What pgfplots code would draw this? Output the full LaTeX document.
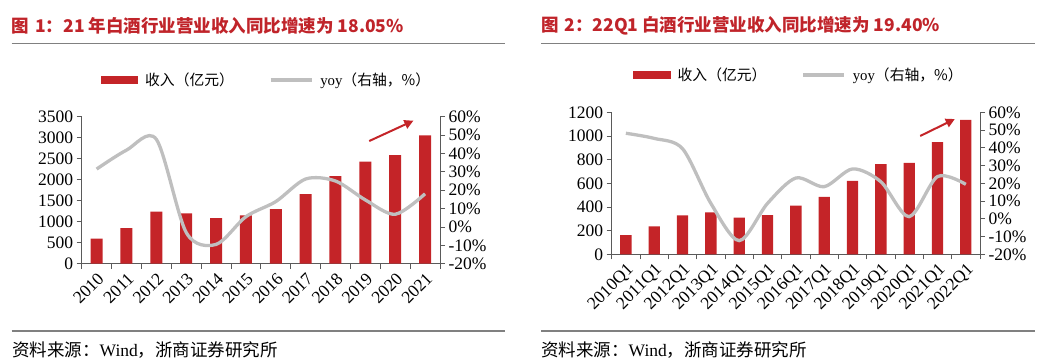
\documentclass[border=0pt]{standalone}
\usepackage{fontspec}
\setmainfont{Liberation Serif}
\newfontfamily\cjk{Noto Sans CJK SC}
\usepackage{pgfplots}
\pgfplotsset{compat=1.18}
\usetikzlibrary{arrows.meta}
\definecolor{barred}{RGB}{196,36,40}
\definecolor{titlered}{RGB}{192,36,42}
\definecolor{linegray}{RGB}{191,191,191}
\definecolor{axcol}{RGB}{90,90,90}
\definecolor{rulegray}{RGB}{128,128,128}
\newcommand{\tickfont}{\fontsize{17.5}{19}\selectfont}
\newcommand{\legfont}{\fontsize{14.8}{16}\selectfont}

\pgfplotsset{
  common/.style={
    scale only axis, anchor=south west,
    axis line style={-, draw=axcol, line width=0.9pt},
    tick style={draw=axcol, line width=0.9pt},
    tick align=outside, major tick length=5pt, minor tick length=5pt,
    ticklabel style={font=\tickfont},
    /pgf/number format/assume math mode=true,
    /pgf/number format/1000 sep={},
    clip=false,
  },
  barleg/.style={legend image code/.code={\fill[barred] (0pt,-3.8pt) rectangle (37.6pt,3.8pt);}},
  lineleg/.style={legend image code/.code={\draw[linegray, line width=3.3pt] (0pt,0pt) -- (41pt,0pt);}},
  legsty/.style={legend style={draw=none, fill=none, inner sep=0pt, outer sep=0pt,
      font=\legfont, legend columns=2,
      /tikz/every odd column/.style={column sep=5pt},
      /tikz/every even column/.style={column sep=33pt}},
    legend cell align=left},
}

\begin{document}
\begin{tikzpicture}
\useasboundingbox (0pt,0pt) rectangle (1060pt,-364pt);

% ---------- Chart 1 ----------
\node[anchor=west, inner sep=0pt, text=titlered, font=\cjk\bfseries\fontsize{17.5}{20}\selectfont] at (11.7pt,-26pt) {图\,\,1：21 年白酒行业营业收入同比增速为 18.05\%};
\draw[rulegray, line width=1.3pt] (11.7pt,-43.3pt) -- (505pt,-43.3pt);

\begin{axis}[common, legsty, at={(81.7pt,-263.7pt)}, width=358.3pt, height=147pt,
  xmin=-0.5, xmax=11.5, ymin=0, ymax=3500,
  axis x line*=bottom, axis y line*=left,
  xtick={0,...,11},
  xticklabels={2010,2011,2012,2013,2014,2015,2016,2017,2018,2019,2020,2021},
  x tick label style={rotate=45, anchor=north east, inner sep=2pt},
  major x tick style={draw=none},
  minor xtick={-0.5,0.5,...,11.5},
  ytick={0,500,...,3500},
  legend style={at={(0.5,1.2497)}, anchor=center, xshift=5.5pt}]
\addplot[ybar, bar width=12pt, fill=barred, draw=none, barleg] coordinates {
(0,595) (1,849) (2,1238) (3,1198) (4,1087) (5,1151) (6,1302) (7,1659) (8,2087) (9,2429) (10,2587) (11,3056)};
\addlegendentry{\cjk 收入（亿元）}
\addlegendimage{lineleg}
\addlegendentry{yoy\cjk（右轴，\%）}
\draw[barred, line width=2pt, -{Triangle[length=9pt,width=9pt]}] (axis cs:9.13,2921) -- (axis cs:10.61,3405);
\end{axis}

\begin{axis}[common, at={(81.7pt,-263.7pt)}, width=358.3pt, height=147pt,
  xmin=-0.5, xmax=11.5, ymin=-20, ymax=60,
  axis x line=none, axis y line*=right, xtick=\empty,
  ytick={-20,-10,...,60},
  yticklabel={\pgfmathprintnumber{\tick}\%}]
\addplot[smooth, color=linegray, line width=3.3pt] coordinates {
(0,31.5) (1,41.8) (2,47.7) (3,-3) (4,-9.5) (5,5.6) (6,13.8) (7,26.1) (8,25.0) (9,14.7) (10,6.9) (11,18.05)};
\end{axis}

\draw[rulegray, line width=1.1pt] (11.7pt,-331pt) -- (505pt,-331pt);
\node[anchor=west, inner sep=0pt, font=\fontsize{17.5}{19}\selectfont] at (12pt,-350pt) {{\cjk 资料来源：}Wind{\cjk ，浙商证券研究所}};

% ---------- Chart 2 ----------
\node[anchor=west, inner sep=0pt, text=titlered, font=\cjk\bfseries\fontsize{17.5}{20}\selectfont] at (541pt,-26pt) {图\,\,2：22Q1 白酒行业营业收入同比增速为 19.40\%};
\draw[rulegray, line width=1.3pt] (541pt,-43.3pt) -- (1035pt,-43.3pt);

\begin{axis}[common, legsty, at={(611.7pt,-254.3pt)}, width=368.3pt, height=142pt,
  xmin=-0.5, xmax=12.5, ymin=0, ymax=1200,
  axis x line*=bottom, axis y line*=left,
  xtick={0,...,12},
  xticklabels={2010Q1,2011Q1,2012Q1,2013Q1,2014Q1,2015Q1,2016Q1,2017Q1,2018Q1,2019Q1,2020Q1,2021Q1,2022Q1},
  x tick label style={rotate=45, anchor=north east, inner sep=2pt},
  major x tick style={draw=none},
  minor xtick={-0.5,0.5,...,12.5},
  ytick={0,200,...,1200},
  legend style={at={(0.5,1.2627)}, anchor=center, xshift=3pt}]
\addplot[ybar, bar width=11.3pt, fill=barred, draw=none, barleg] coordinates {
(0,163) (1,237) (2,330) (3,355) (4,310) (5,332) (6,411) (7,485) (8,620) (9,763) (10,772) (11,949) (12,1135)};
\addlegendentry{\cjk 收入（亿元）}
\addlegendimage{lineleg}
\addlegendentry{yoy\cjk（右轴，\%）}
\draw[barred, line width=2pt, -{Triangle[length=9pt,width=9pt]}] (axis cs:10.39,1000) -- (axis cs:11.61,1143);
\end{axis}

\begin{axis}[common, at={(611.7pt,-254.3pt)}, width=368.3pt, height=142pt,
  xmin=-0.5, xmax=12.5, ymin=-20, ymax=60,
  axis x line=none, axis y line*=right, xtick=\empty,
  ytick={-20,-10,...,60},
  yticklabel={\pgfmathprintnumber{\tick}\%}]
\addplot[smooth, color=linegray, line width=3.3pt] coordinates {
(0,48.2) (1,45.3) (2,39.5) (3,8.7) (4,-12.3) (5,8.7) (6,23) (7,18.1) (8,28.1) (9,20.9) (10,1.2) (11,23.8) (12,19.4)};
\end{axis}

\draw[rulegray, line width=1.1pt] (541pt,-331pt) -- (1035pt,-331pt);
\node[anchor=west, inner sep=0pt, font=\fontsize{17.5}{19}\selectfont] at (541pt,-350pt) {{\cjk 资料来源：}Wind{\cjk ，浙商证券研究所}};
\end{tikzpicture}
\end{document}
